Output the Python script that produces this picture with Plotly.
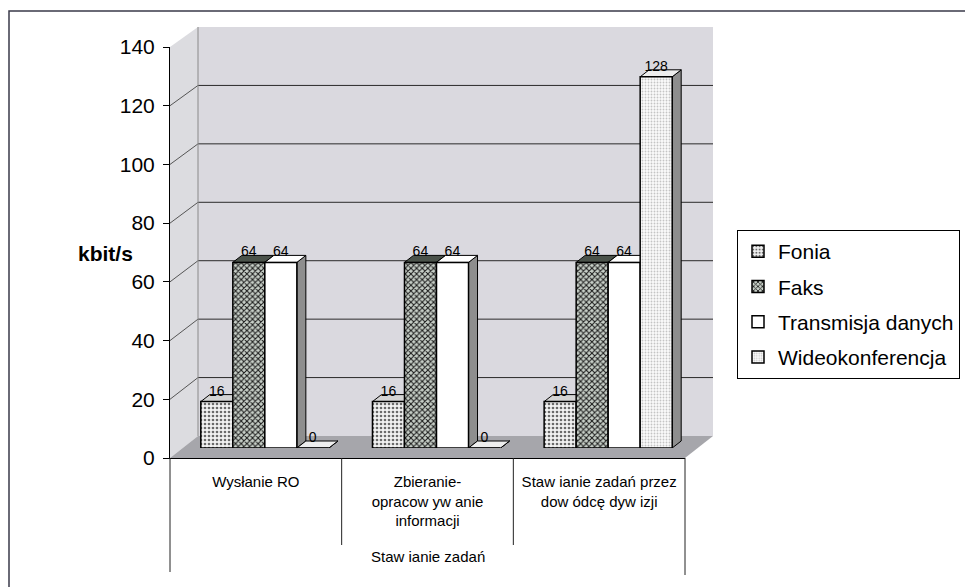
import plotly.graph_objects as go

# ---------------- data ----------------
categories = ["Wysłanie RO", "Zbieranie-opracowywanie informacji", "Stawianie zadań przez dowódcę dywizji"]
category_labels = ["Wysłanie RO", "Zbieranie-<br>opracow yw anie<br>informacji", "Staw ianie zadań przez<br>dow ódcę dyw izji"]
group_label = "Staw ianie zadań"
series_names = ["Fonia", "Faks", "Transmisja danych", "Wideokonferencja"]
fonia = [16, 16, 16]
faks = [64, 64, 64]
transmisja = [64, 64, 64]
wideo = [0, 0, 128]
y_ticks = [0, 20, 40, 60, 80, 100, 120, 140]
y_title = "kbit/s"

series_values = [fonia, faks, transmisja, wideo]

# ---------------- geometry (pixels) ----------------
W, H = 965, 587
def px(x): return x / W
def py(y): return 1 - y / H

FX0, FX1 = 170, 685          # front plane x extent
FY0, FY140 = 458, 47         # front plane y of 0 and 140
BX0, BX1 = 198, 713          # back wall x extent
BY0, BY140 = 436, 27         # back wall y of 0 and 140
BAR_DX = 9                   # bar plane shift
BAR_Y0, BAR_Y140 = 448, 42   # bar plane y of 0 and 140
YMAX = 140
bargap = 0.254
DEPTH_X, DEPTH_Y = 9, 7      # bar 3D depth (pixels)

front_scale = (FY0 - FY140) / YMAX
back_scale = (BY0 - BY140) / YMAX
bar_scale = (BAR_Y0 - BAR_Y140) / YMAX

fill_styles = [
    dict(color="#eeeeee", pattern=dict(shape=".", fgcolor="#6a6a6a", bgcolor="#f2f2f2", size=4, solidity=0.35, fillmode="replace")),
    dict(color="#556055", pattern=dict(shape="x", fgcolor="#1a1a1a", bgcolor="#c8d0c8", size=4, solidity=0.45, fillmode="replace")),
    dict(color="#ffffff"),
    dict(color="#f6f6f6", pattern=dict(shape=".", fgcolor="#c4c4c4", bgcolor="#fbfbfb", size=3, solidity=0.3, fillmode="replace")),
]
top_colors = ["#d4d4d4", "#4a524a", "#ffffff", "#eeeeee"]
side_color = "#8e8e8e"

fig = go.Figure()
for i, (name, vals) in enumerate(zip(series_names, series_values)):
    st = fill_styles[i]
    marker = dict(color=st["color"], line=dict(color="black", width=1.5))
    if "pattern" in st:
        marker["pattern"] = st["pattern"]
    fig.add_trace(go.Bar(
        name=name, x=categories, y=vals, marker=marker,
        text=[str(v) for v in vals], textposition="outside",
        textfont=dict(family="Liberation Sans, Arial", size=14, color="black"),
        cliponaxis=False, legendgroup=name, xaxis="x", yaxis="y",
    ))
# empty trace so that the front-plane axes (x2/y2) are drawn
fig.add_trace(go.Scatter(x=[None], y=[None], xaxis="x2", yaxis="y2", mode="markers",
                         showlegend=False, hoverinfo="skip"))

shapes = []
line_col = "#2a2a2a"
# walls
shapes.append(dict(type="path", xref="paper", yref="paper", layer="below",
                   path=f"M{px(BX0)},{py(BY0)} L{px(BX1)},{py(BY0)} L{px(BX1)},{py(BY140)} L{px(BX0)},{py(BY140)} Z",
                   fillcolor="#dad9df", line=dict(width=0)))
shapes.append(dict(type="path", xref="paper", yref="paper", layer="below",
                   path=f"M{px(FX0)},{py(FY0)} L{px(BX0)},{py(BY0)} L{px(BX0)},{py(BY140)} L{px(FX0)},{py(FY140)} Z",
                   fillcolor="#dcdce0", line=dict(width=0)))
shapes.append(dict(type="path", xref="paper", yref="paper", layer="below",
                   path=f"M{px(FX0)},{py(FY0)} L{px(FX1)},{py(FY0)} L{px(BX1)},{py(BY0)} L{px(BX0)},{py(BY0)} Z",
                   fillcolor="#a6a6ab", line=dict(width=0)))
# gridlines on back wall and left wall
for v in y_ticks[1:-1]:
    yb = BY0 - v * back_scale
    yf = FY0 - v * front_scale
    shapes.append(dict(type="line", xref="paper", yref="paper", layer="below",
                       x0=px(BX0), x1=px(BX1), y0=py(yb), y1=py(yb), line=dict(color=line_col, width=1)))
    shapes.append(dict(type="line", xref="paper", yref="paper", layer="below",
                       x0=px(FX0), x1=px(BX0), y0=py(yf), y1=py(yb), line=dict(color="#555555", width=1)))
# back wall left edge
shapes.append(dict(type="line", xref="paper", yref="paper", layer="below",
                   x0=px(BX0), x1=px(BX0), y0=py(BY0), y1=py(BY140), line=dict(color="#8a8a8a", width=1)))

# outer border
shapes.append(dict(type="path", xref="paper", yref="paper", layer="above",
                   path=f"M{px(9)},0 L{px(9)},{py(11)} L1,{py(11)}", line=dict(color="#3a3a4a", width=1.5)))
# category dividers below axis
for x, yend in [(FX0, 572), (FX0 + (FX1 - FX0) / 3, 545), (FX0 + 2 * (FX1 - FX0) / 3, 545), (FX1, 575)]:
    shapes.append(dict(type="line", xref="paper", yref="paper", layer="above",
                       x0=px(x), x1=px(x), y0=py(FY0), y1=py(yend), line=dict(color="#222", width=1)))

# 3D top and side faces of the bars
w = (1 - bargap) / 4
cat_px = (FX1 - FX0) / 3
bw = w * cat_px
for i, vals in enumerate(series_values):
    for c, v in enumerate(vals):
        left = c + (i - 2) * w
        h = v * bar_scale
        shapes.append(dict(type="path", xref="x", yref="y", layer="below",
                           xsizemode="pixel", ysizemode="pixel", xanchor=left, yanchor=0,
                           path=f"M{bw},0 L{bw + DEPTH_X},{DEPTH_Y} L{bw + DEPTH_X},{h + DEPTH_Y} L{bw},{h} Z",
                           fillcolor=side_color, line=dict(color="black", width=1)))
        shapes.append(dict(type="path", xref="x", yref="y", layer="below",
                           xsizemode="pixel", ysizemode="pixel", xanchor=left, yanchor=v,
                           path=f"M0,0 L{bw},0 L{bw + DEPTH_X},{DEPTH_Y} L{DEPTH_X},{DEPTH_Y} Z",
                           fillcolor=top_colors[i], line=dict(color="black", width=1)))

annotations = [
    dict(text=f"<b>{y_title}</b>", x=px(76), y=py(253), xref="paper", yref="paper",
         showarrow=False, font=dict(family="Liberation Sans, Arial", size=21, color="black")),
    dict(text=group_label, x=px((FX0 + FX1) / 2), y=py(556), xref="paper", yref="paper",
         yanchor="middle", showarrow=False,
         font=dict(family="Liberation Sans, Arial", size=15, color="black")),
]

fig.update_layout(
    width=W, height=H,
    margin=dict(l=0, r=0, t=0, b=0, autoexpand=False),
    paper_bgcolor="white", plot_bgcolor="rgba(0,0,0,0)",
    barmode="group", bargap=bargap, bargroupgap=0,
    font=dict(family="Liberation Sans, Arial", color="black"),
    xaxis=dict(domain=[px(FX0 + BAR_DX), px(FX1 + BAR_DX)], showticklabels=False, showgrid=False,
               zeroline=False, showline=False, ticks="", automargin=False),
    yaxis=dict(domain=[py(BAR_Y0), py(BAR_Y140)], range=[0, YMAX], showticklabels=False,
               showgrid=False, zeroline=False, showline=False, ticks="", automargin=False),
    xaxis2=dict(domain=[px(FX0), px(FX1)], anchor="y2", range=[-0.5, 2.5], automargin=False,
                tickvals=[0, 1, 2], ticktext=category_labels, showgrid=False, zeroline=False,
                showline=True, linecolor="black", linewidth=1, ticks="", ticklabelstandoff=10,
                tickfont=dict(family="Liberation Sans, Arial", size=15, color="black")),
    yaxis2=dict(domain=[py(FY0), py(FY140)], anchor="x2", range=[0, YMAX], tickvals=y_ticks,
                automargin=False,
                showgrid=False, zeroline=False, showline=True, linecolor="black", linewidth=1,
                ticks="outside", ticklen=6, tickcolor="black", ticklabelstandoff=4,
                tickfont=dict(family="Liberation Sans, Arial", size=21, color="black")),
    showlegend=True,
    legend=dict(x=px(737), y=py(230), xanchor="left", yanchor="top",
                bordercolor="black", borderwidth=1, bgcolor="white",
                font=dict(family="Liberation Sans, Arial", size=21, color="black"),
                tracegroupgap=5, itemwidth=30, traceorder="grouped"),
    shapes=shapes, annotations=annotations,
)

fig.write_html("out.html")
